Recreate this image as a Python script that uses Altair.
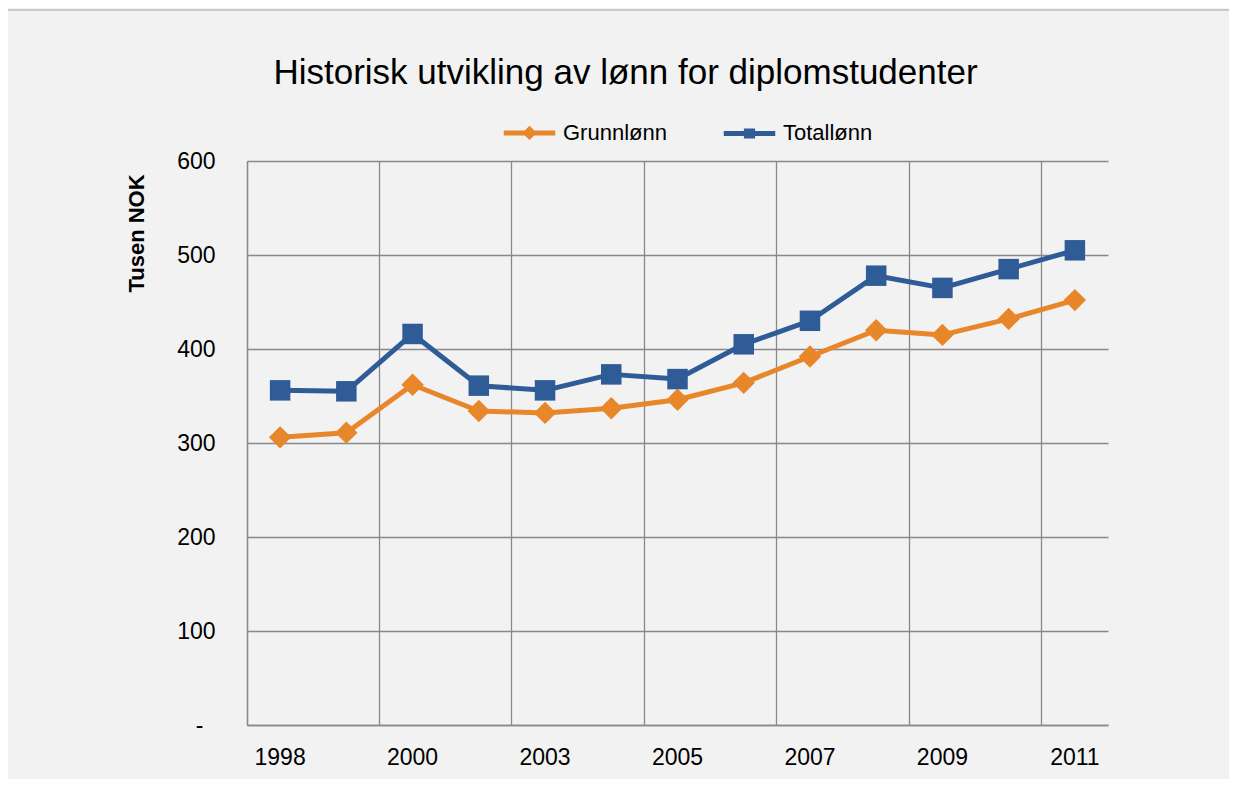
import altair as alt
import pandas as pd

years = ["1998", "1999", "2000", "2001", "2003", "2004", "2005",
         "2006", "2007", "2008", "2009", "2010", "2011"]
grunnlonn = [306, 311, 362, 334, 332, 337, 346, 364, 392, 420, 415, 432, 452]
totallonn = [356, 355, 416, 361, 356, 373, 368, 405, 430, 478, 465, 485, 505]
series = ["Grunnlønn", "Totallønn"]
colors = ["#E8862A", "#2F5B97"]
y_ticks = [0, 100, 200, 300, 400, 500, 600]

FONT = "Liberation Sans"
W, H = 861, 564
GRID = "#898989"

df = pd.DataFrame({
    "year": years * 2,
    "value": grunnlonn + totallonn,
    "series": [series[0]] * len(years) + [series[1]] * len(years),
})

x_enc = alt.X(
    "year:N", sort=years, bandPosition=0.5,
    scale=alt.Scale(type="band", paddingInner=0, paddingOuter=0),
    axis=alt.Axis(
        title=None, values=years[0::2], bandPosition=0,
        grid=True, gridColor=GRID, gridWidth=1.3, ticks=False,
        domainColor=GRID, domainWidth=1.3, labelAngle=0,
        labelFont=FONT, labelFontSize=23, labelColor="#000000", labelPadding=21,
    ),
)
y_enc = alt.Y(
    "value:Q",
    scale=alt.Scale(domain=[0, 600], nice=False, zero=True),
    axis=alt.Axis(
        values=y_ticks, title="Tusen NOK", grid=True, gridColor=GRID, gridWidth=1.3,
        ticks=False, domainColor=GRID, domainWidth=1.3,
        labelFont=FONT, labelFontSize=23, labelColor="#000000",
        labelPadding={"condition": {"test": "datum.value === 0", "value": 44}, "value": 32},
        labelExpr="datum.value == 0 ? '-' : datum.label",
        titleFont=FONT, titleFontSize=22, titleFontWeight="bold", titleColor="#000000",
        titlePadding=28, titleY=72,
    ),
)

base = alt.Chart(df)
layers = []
marker_shapes = ["diamond", "square"]
marker_sizes = [500, 420]
for s, c, shp, sz in zip(series, colors, marker_shapes, marker_sizes):
    sub = base.transform_filter(alt.datum.series == s)
    layers.append(sub.mark_line(color=c, strokeWidth=5, strokeJoin="round",
                                strokeCap="round").encode(x=x_enc, y=y_enc))
    layers.append(sub.mark_point(shape=shp, filled=True, fill=c, color=c, size=sz,
                                 opacity=1, strokeWidth=0).encode(x=x_enc, y=y_enc))

legend_paths = [
    "M-0.92,0H0.92M0,-0.13L0.13,0L0,0.13L-0.13,0Z",
    "M-0.92,0H0.92M-0.11,-0.09H0.11V0.09H-0.11Z",
]
legend = alt.Legend(
    title=None, orient="none", direction="horizontal", legendX=252, legendY=-59,
    labelFont=FONT, labelFontSize=22, labelColor="#000000", labelOffset=3,
    symbolSize=3136, symbolStrokeWidth=5, columnPadding=46, symbolOpacity=1,
)
legend_layer = base.transform_filter("false").mark_point(filled=True, opacity=1).encode(
    fill=alt.Fill("series:N", scale=alt.Scale(domain=series, range=colors), legend=legend),
    stroke=alt.Stroke("series:N", scale=alt.Scale(domain=series, range=colors), legend=legend),
    shape=alt.Shape("series:N", scale=alt.Scale(domain=series, range=legend_paths), legend=legend),
)
layers.append(legend_layer)

border = alt.Chart(pd.DataFrame({"a": [0]})).mark_rule(color="#C8C8C8", strokeWidth=2).encode(
    x=alt.value(-239), x2=alt.value(982), y=alt.value(-151)
)
layers.append(border)

chart = alt.layer(*layers).properties(
    width=W, height=H,
    title=alt.TitleParams(
        "Historisk utvikling av lønn for diplomstudenter",
        font=FONT, fontSize=35, fontWeight="normal", color="#000000",
        anchor="middle", frame="group", dx=-52, offset=0, dy=110, baseline="alphabetic",
    ),
    autosize=alt.AutoSizeParams(type="none"),
    padding={"left": 239, "top": 153, "right": 121, "bottom": 54},
    background="#F2F2F2",
).configure_view(stroke=None)

chart.save("out.html", embed_options={"renderer": "svg", "actions": False})
